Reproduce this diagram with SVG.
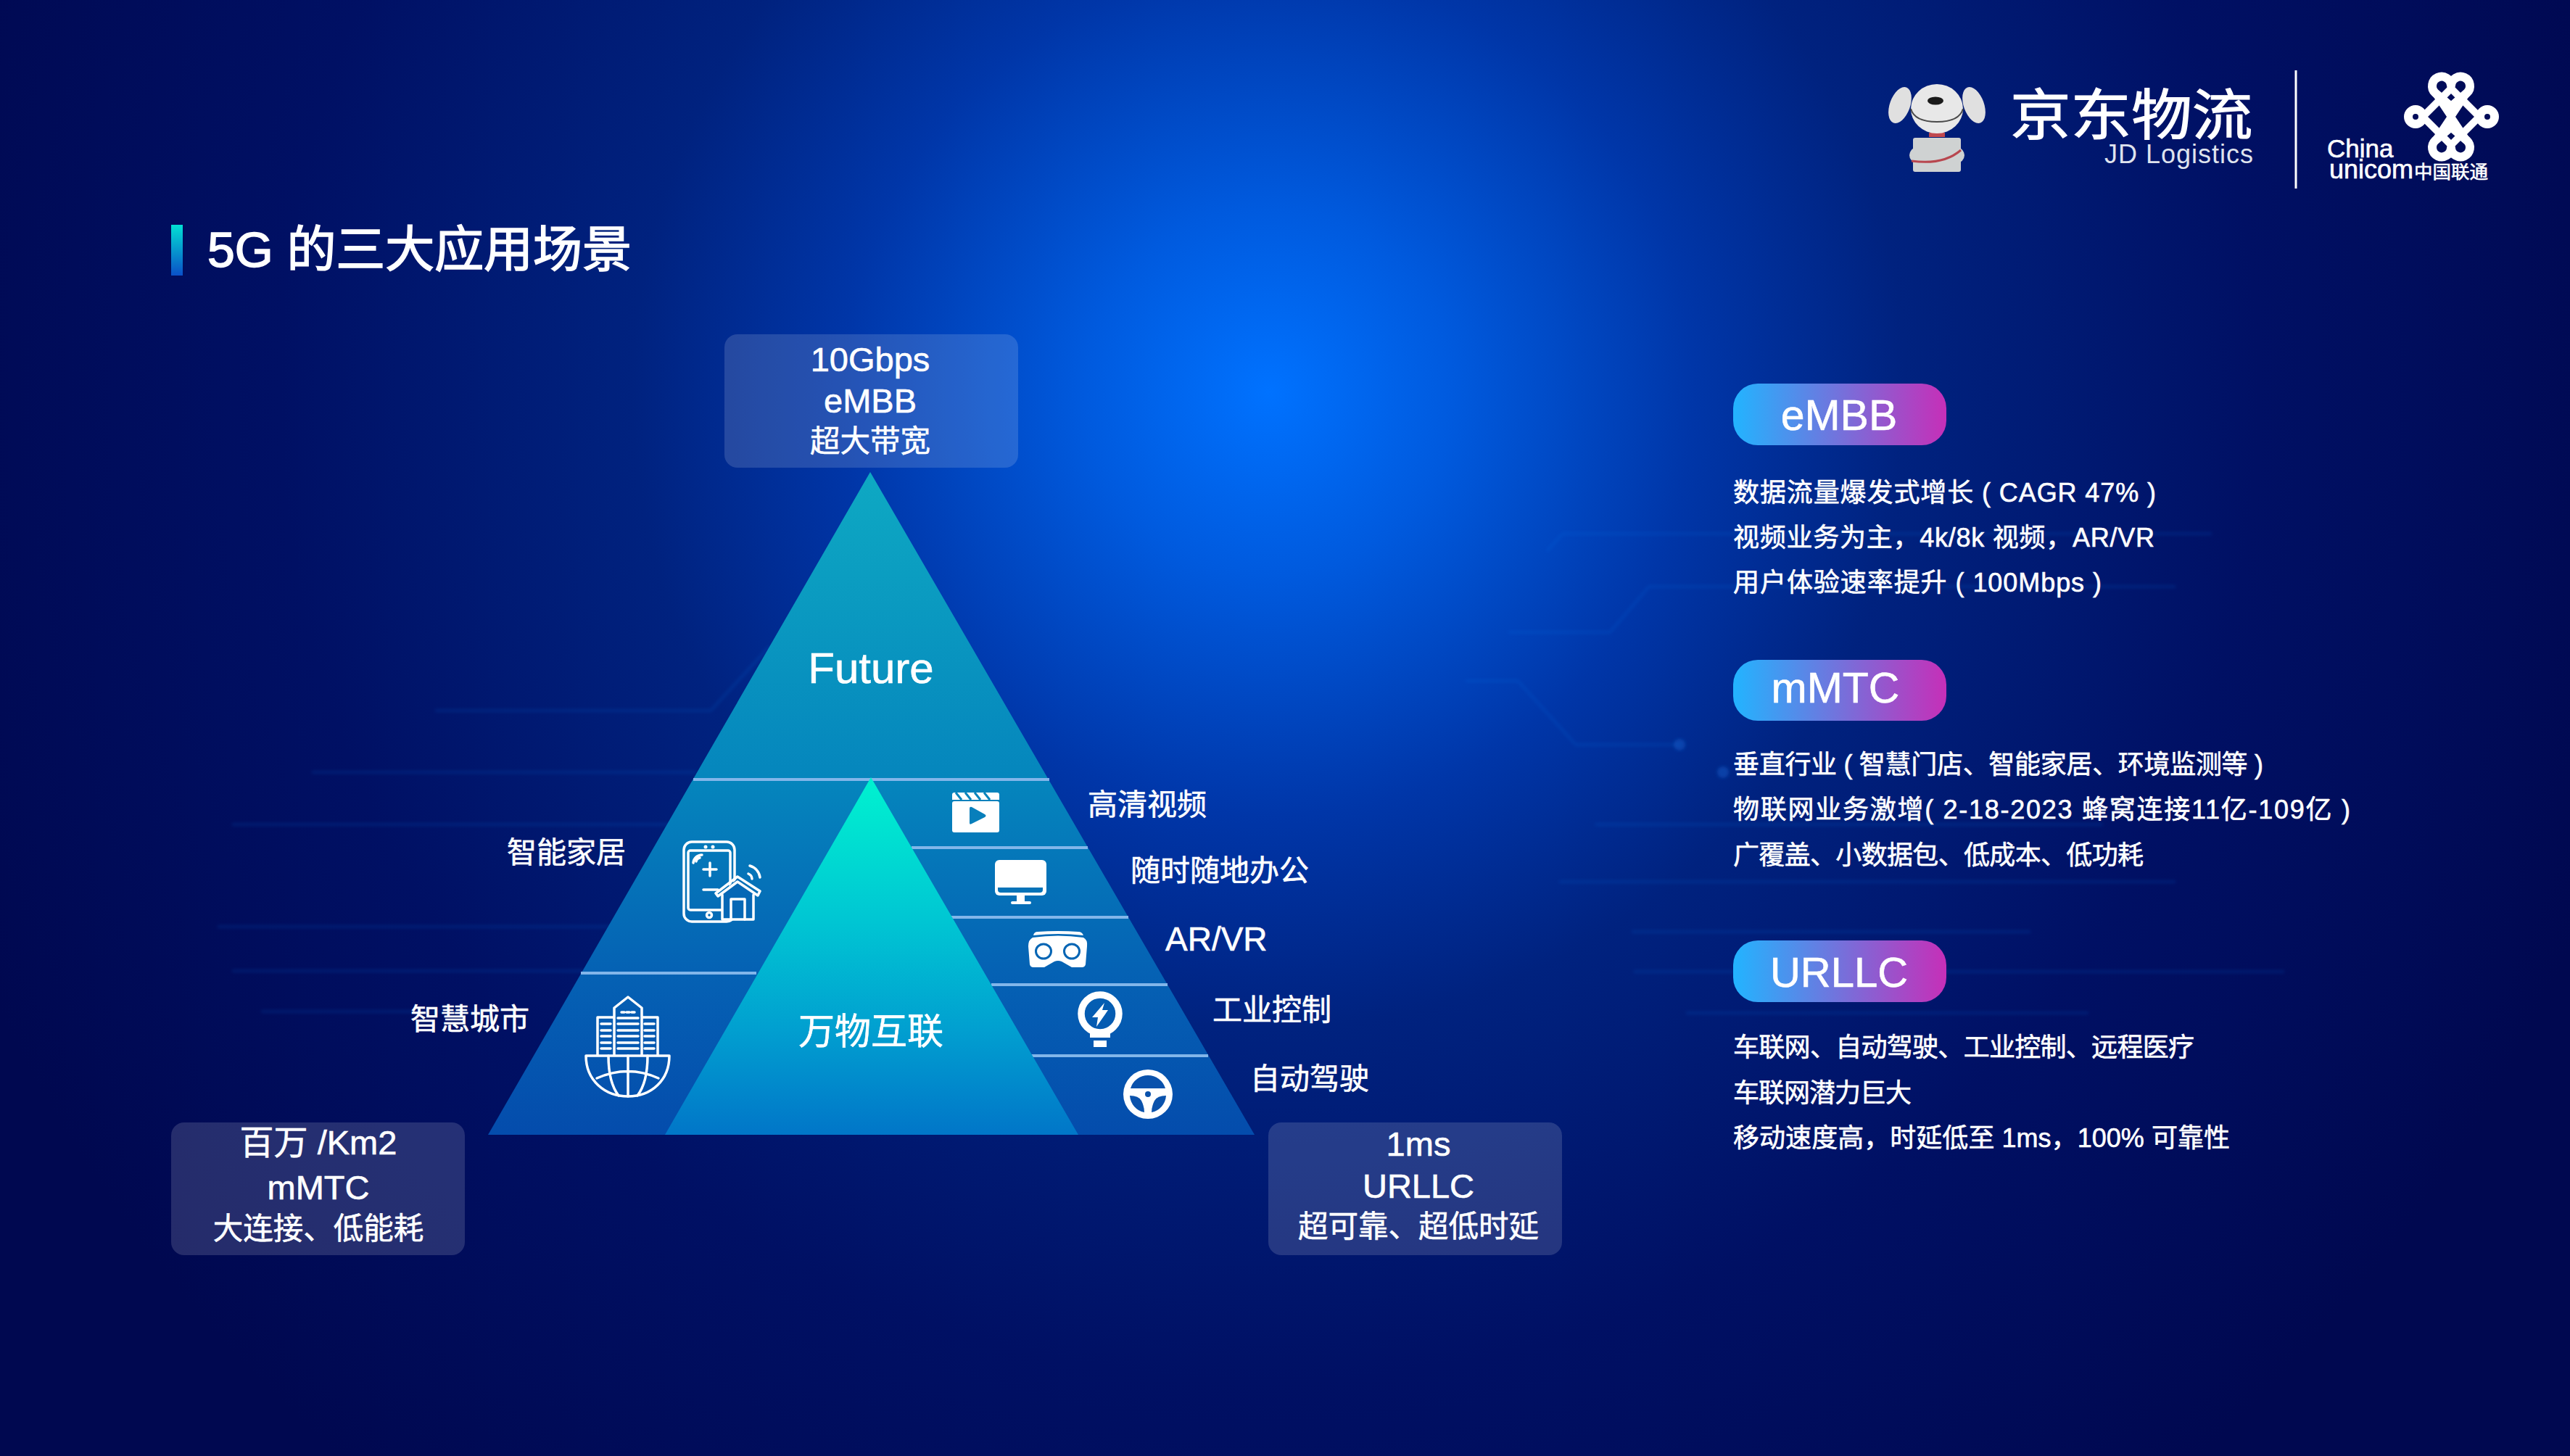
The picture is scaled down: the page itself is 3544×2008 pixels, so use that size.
<svg xmlns="http://www.w3.org/2000/svg" width="3544" height="2008" viewBox="0 0 3544 2008">
<style>
text{font-family:"Liberation Sans","Noto Sans CJK SC",sans-serif;fill:#fff;stroke:#fff;stroke-width:.6px}
.m{text-anchor:middle}
.b{font-size:36px}
.l{font-size:41px}
.bx{font-size:47px}
.bc{font-size:41.5px}
.p{font-size:59px}
.box{fill:#fff;fill-opacity:.145}
.sep{fill:#82b6ea}
.cir{fill:none;stroke:#1f78ee;stroke-width:4;stroke-opacity:.13}
.lw{fill:none;stroke:#fff;stroke-width:3.5;stroke-linecap:round;stroke-linejoin:round}
.ico{fill:#fff}
</style>
<defs>
<radialGradient id="bg" gradientUnits="userSpaceOnUse" cx="1750" cy="540" r="1950">
<stop offset="0" stop-color="#0072ff"/><stop offset=".13" stop-color="#005ade"/><stop offset=".3" stop-color="#0036a8"/><stop offset=".45" stop-color="#00227f"/><stop offset=".7" stop-color="#001064"/><stop offset="1" stop-color="#000850"/>
</radialGradient>
<linearGradient id="big" gradientUnits="userSpaceOnUse" x1="0" y1="650" x2="0" y2="1565">
<stop offset="0" stop-color="#0ea9c3"/><stop offset=".46" stop-color="#0586bd"/><stop offset=".75" stop-color="#0562b4"/><stop offset="1" stop-color="#044cac"/>
</linearGradient>
<linearGradient id="inner" gradientUnits="userSpaceOnUse" x1="0" y1="1072" x2="0" y2="1565">
<stop offset="0" stop-color="#00f2d0"/><stop offset=".4" stop-color="#00c6d3"/><stop offset=".7" stop-color="#01a0d0"/><stop offset="1" stop-color="#0176c8"/>
</linearGradient>
<linearGradient id="pill" x1="0" y1="0" x2="1" y2="0">
<stop offset="0" stop-color="#22b4ff"/><stop offset="1" stop-color="#c62fb8"/>
</linearGradient>
<linearGradient id="bar" x1="0" y1="0" x2="0" y2="1">
<stop offset="0" stop-color="#02e0d4"/><stop offset="1" stop-color="#0a50c8"/>
</linearGradient>
<filter id="soft" x="-10%" y="-10%" width="120%" height="120%"><feGaussianBlur stdDeviation="2"/></filter>
</defs>

<rect id="background" width="3544" height="2008" fill="url(#bg)"/>

<g id="circuit" filter="url(#soft)">
<path class="cir" d="M2133 760L2155 736H3050"/>
<path class="cir" d="M2080 872H2220L2274 809H3000"/>
<path class="cir" d="M2021 939H2093L2173 1027H2316"/>
<path class="cir" d="M2200 1137H2900"/>
<path class="cir" d="M2150 1216H3000"/>
<path class="cir" d="M2250 1285H2800"/>
<path class="cir" d="M2253 1340H3150"/>
<path class="cir" d="M2325 1397H2880"/>
<path class="cir" d="M600 980H980L1060 893H1300"/>
<path class="cir" d="M430 1065H960"/>
<path class="cir" d="M320 1137H940"/>
<path class="cir" d="M300 1278H900"/>
<path class="cir" d="M320 1339H820"/>
<path class="cir" d="M360 1395H680"/>
<circle cx="2316" cy="1027" r="8" fill="#1668d8" fill-opacity=".4"/>
<circle cx="2376" cy="1065" r="8" fill="#1668d8" fill-opacity=".4"/>
</g>

<g id="logo-jd">
<ellipse cx="2620" cy="145" rx="14" ry="26" fill="#e0e0e0" transform="rotate(20 2620 145)"/>
<ellipse cx="2722" cy="145" rx="14" ry="26" fill="#e0e0e0" transform="rotate(-20 2722 145)"/>
<rect x="2638" y="190" width="66" height="47" rx="3" fill="#cfd2d2"/>
<ellipse cx="2671" cy="214" rx="38" ry="19" fill="#cfd2d2"/>
<path d="M2636 222Q2680 228 2704 207" fill="none" stroke="#b8474f" stroke-width="3"/>
<rect x="2660" y="183" width="22" height="6" fill="#c0484e"/>
<ellipse cx="2671" cy="150" rx="36" ry="34" fill="#e8e8e8"/>
<path d="M2635 150Q2640 168 2671 168Q2702 168 2707 150" fill="none" stroke="#4a4a4a" stroke-width="2"/>
<ellipse cx="2669" cy="139" rx="11" ry="5.500" fill="#1a1a1a"/>
<text transform="translate(2772 186) scale(1.1 1)" x="0" y="0" font-size="76" style="stroke-width:1.2px">京东物流</text>
<text x="2902" y="225" font-size="36" letter-spacing="1" style="fill:#dfe3ee;stroke:none">JD Logistics</text>
</g>

<rect id="logo-divider" x="3164.500" y="97" width="3" height="163" fill="#fff"/>

<g id="logo-unicom">
<g fill="none" stroke="#fff" stroke-width="12" stroke-linejoin="round">
<path d="M3380 147L3358 128A13 13 0 1 1 3380 118A13 13 0 1 1 3402 128Z"/>
<path d="M3380 175L3358 194A13 13 0 1 0 3380 204A13 13 0 1 0 3402 194Z"/>
<circle cx="3331" cy="161" r="10"/>
<circle cx="3430" cy="161" r="10"/>
<path d="M3341 161L3380 122L3419 161L3380 200Z" stroke-width="10"/>
<path d="M3358 128L3402 194M3402 128L3358 194" stroke-width="10"/>
</g>
<text x="3209" y="217" font-size="35">China</text>
<text x="3212" y="246" font-size="36">unicom</text>
<text x="3329" y="246" font-size="25.500">中国联通</text>
</g>

<g id="title">
<rect x="236" y="310" width="16" height="70" fill="url(#bar)"/>
<text x="286" y="368" font-size="68" textLength="585" lengthAdjust="spacing" style="stroke-width:1.600px">5G 的三大应用场景</text>
</g>

<g id="pyramid">
<polygon points="1200,651 1730,1565 673,1565" fill="url(#big)"/>
<g id="separators">
<rect class="sep" x="956" y="1073" width="491" height="4"/>
<rect class="sep" x="801" y="1340" width="242" height="4"/>
<rect class="sep" x="1257" y="1167" width="243" height="4"/>
<rect class="sep" x="1312" y="1263" width="244" height="4"/>
<rect class="sep" x="1367" y="1356" width="243" height="4"/>
<rect class="sep" x="1422" y="1454" width="244" height="4"/>
</g>
<polygon points="1201,1072 1487,1565 917,1565" fill="url(#inner)"/>
<text class="m" x="1201" y="942" font-size="60">Future</text>
<text class="m" x="1201" y="1440" font-size="50">万物互联</text>
</g>

<g id="box-embb">
<rect class="box" x="999" y="461" width="405" height="184" rx="18"/>
<text class="m bx" x="1200" y="512">10Gbps</text>
<text class="m bx" x="1200" y="569">eMBB</text>
<text class="m bc" x="1200" y="623">超大带宽</text>
</g>
<g id="box-mmtc">
<rect class="box" x="236" y="1548" width="405" height="183" rx="18"/>
<text class="m bx" x="439" y="1592">百万 /Km2</text>
<text class="m bx" x="439" y="1654">mMTC</text>
<text class="m bc" x="439" y="1709">大连接、低能耗</text>
</g>
<g id="box-urllc">
<rect class="box" x="1749" y="1548" width="405" height="183" rx="18"/>
<text class="m bx" x="1956" y="1594">1ms</text>
<text class="m bx" x="1956" y="1652">URLLC</text>
<text class="m bc" x="1956" y="1706">超可靠、超低时延</text>
</g>

<g id="label-home"><text class="l" x="699" y="1190">智能家居</text></g>
<g id="label-city"><text class="l" x="566" y="1420">智慧城市</text></g>
<g id="label-hd"><text class="l" x="1500" y="1124">高清视频</text></g>
<g id="label-office"><text class="l" x="1559" y="1215">随时随地办公</text></g>
<g id="label-vr"><text x="1607" y="1311" style="font-size:46px">AR/VR</text></g>
<g id="label-ind"><text class="l" x="1672" y="1407">工业控制</text></g>
<g id="label-auto"><text class="l" x="1724" y="1502">自动驾驶</text></g>

<g id="icon-home">
<rect class="lw" x="943" y="1161" width="70" height="110" rx="11"/>
<rect class="lw" x="949" y="1173" width="58" height="82" rx="3"/>
<circle class="ico" cx="973" cy="1168" r="2.500"/><circle class="ico" cx="983" cy="1168" r="2.500"/>
<circle class="lw" cx="978" cy="1262" r="3.500"/>
<path class="lw" d="M979 1190V1208M970 1199H988M970 1227H990"/>
<path class="lw" d="M960 1188A6 6 0 0 1 965 1183M956 1190A12 12 0 0 1 968 1179"/>
<path class="lw" d="M1032 1205A8 8 0 0 1 1037 1212M1034 1194A19 19 0 0 1 1048 1210" />
<path d="M996 1268V1230L1017 1212L1039 1230V1268Z" fill="#0668b6"/>
<path class="lw" d="M987 1232L1017 1209L1048 1229L1045 1235L1017 1216L990 1236Z" fill="#0668b6"/>
<path class="lw" d="M996 1234V1268H1039V1234"/>
<path class="lw" d="M1008 1268V1240H1027V1268"/>
</g>

<g id="icon-city">
<path class="lw" d="M847 1455V1390L866 1375L885 1390V1455M847 1403H824V1455M885 1403H907V1455"/>
<path class="lw" d="M852 1404H880M852 1412H880M852 1421H880M852 1429H880M852 1438H880M852 1446H880"/>
<path class="lw" d="M829 1412H842M829 1421H842M829 1429H842M829 1438H842M829 1446H842M889 1412H902M889 1421H902M889 1429H902M889 1438H902M889 1446H902"/>
<path class="lw" d="M857 1396H861M864 1396H868M871 1396H875"/>
<path class="lw" d="M808 1456H923C923 1490 898 1512 866 1512C834 1512 808 1490 808 1456Z"/>
<path class="lw" d="M866 1456V1512M839 1456C839 1480 843 1498 853 1511M893 1456C893 1480 889 1498 879 1511M823 1487Q866 1468 908 1487"/>
</g>

<g id="icon-video">
<rect class="ico" x="1313" y="1105" width="65" height="43" rx="3"/>
<path class="ico" d="M1313 1103V1096Q1313 1093 1316 1093H1375Q1378 1093 1378 1096V1103Z"/>
<path d="M1318 1093L1326 1103M1331 1093L1339 1103M1344 1093L1352 1103M1357 1093L1365 1103" stroke="#0884bc" stroke-width="3"/>
<path d="M1337 1115Q1337 1112 1340 1113L1358 1123Q1361 1125 1358 1127L1340 1136Q1337 1138 1337 1135Z" fill="#087fbb"/>
</g>

<g id="icon-monitor">
<rect class="ico" x="1372" y="1186" width="71" height="49" rx="6"/>
<path d="M1376 1224H1438V1227Q1438 1231 1434 1231H1380Q1376 1231 1376 1227Z" fill="#0673b8"/>
<rect class="ico" x="1402" y="1235" width="11" height="9"/>
<rect class="ico" x="1394" y="1243" width="28" height="4" rx="2"/>
</g>

<g id="icon-vr">
<path class="ico" d="M1425 1290Q1426 1285 1431 1285Q1459 1283 1487 1285Q1492 1285 1494 1290Q1459 1286 1425 1290Z"/>
<path class="ico" d="M1424 1293Q1459 1288 1494 1293Q1500 1296 1499 1305L1497 1330Q1496 1334 1492 1334H1478L1464 1326Q1459 1324 1454 1326L1440 1334H1425Q1421 1334 1420 1330L1418 1305Q1418 1296 1424 1293Z"/>
<ellipse cx="1439" cy="1312" rx="10.500" ry="10" fill="#fff" stroke="#0565b4" stroke-width="3"/>
<ellipse cx="1478" cy="1312" rx="10.500" ry="10" fill="#fff" stroke="#0565b4" stroke-width="3"/>
</g>

<g id="icon-bulb">
<circle cx="1517" cy="1398" r="26" fill="none" stroke="#fff" stroke-width="9.500"/>
<path class="ico" d="M1503 1424H1531V1431H1503Z"/>
<rect class="ico" x="1508" y="1435" width="18" height="9"/>
<polygon class="ico" points="1523,1383 1506,1403 1514,1403 1512,1416 1528,1393 1520,1393"/>
</g>

<g id="icon-wheel">
<circle class="ico" cx="1583" cy="1509" r="34"/>
<path d="M1559 1501A25 25 0 0 1 1607 1501Z" fill="#0a52ac"/>
<path d="M1558 1511Q1570 1511 1574 1518Q1578 1526 1578 1534A25 25 0 0 1 1558 1511Z" fill="#0a52ac"/>
<path d="M1608 1511Q1596 1511 1592 1518Q1588 1526 1588 1534A25 25 0 0 0 1608 1511Z" fill="#0a52ac"/>
<circle cx="1583" cy="1509" r="4" fill="#0a52ac"/>
</g>

<g id="card-embb">
<rect x="2390" y="529" width="294" height="85" rx="34" fill="url(#pill)"/>
<text class="m p" x="2536" y="593">eMBB</text>
<text class="b" x="2390" y="692" textLength="583" lengthAdjust="spacing">数据流量爆发式增长 ( CAGR 47% )</text>
<text class="b" x="2390" y="754" textLength="581" lengthAdjust="spacing">视频业务为主，4k/8k 视频，AR/VR</text>
<text class="b" x="2390" y="816" textLength="508" lengthAdjust="spacing">用户体验速率提升 ( 100Mbps )</text>
</g>
<g id="card-mmtc">
<rect x="2390" y="910" width="294" height="84" rx="34" fill="url(#pill)"/>
<text class="m p" x="2531" y="969">mMTC</text>
<text class="b" x="2390" y="1067" textLength="731" lengthAdjust="spacing">垂直行业 ( 智慧门店、智能家居、环境监测等 )</text>
<text class="b" x="2390" y="1129" textLength="851" lengthAdjust="spacing">物联网业务激增( 2-18-2023 蜂窝连接11亿-109亿 )</text>
<text class="b" x="2390" y="1192" textLength="566" lengthAdjust="spacing">广覆盖、小数据包、低成本、低功耗</text>
</g>
<g id="card-urllc">
<rect x="2390" y="1297" width="294" height="85" rx="34" fill="url(#pill)"/>
<text class="m" x="2536" y="1361" font-size="58">URLLC</text>
<text class="b" x="2390" y="1457" textLength="636" lengthAdjust="spacing">车联网、自动驾驶、工业控制、远程医疗</text>
<text class="b" x="2390" y="1520" textLength="246" lengthAdjust="spacing">车联网潜力巨大</text>
<text class="b" x="2390" y="1582" textLength="685" lengthAdjust="spacing">移动速度高，时延低至 1ms，100% 可靠性</text>
</g>
</svg>
